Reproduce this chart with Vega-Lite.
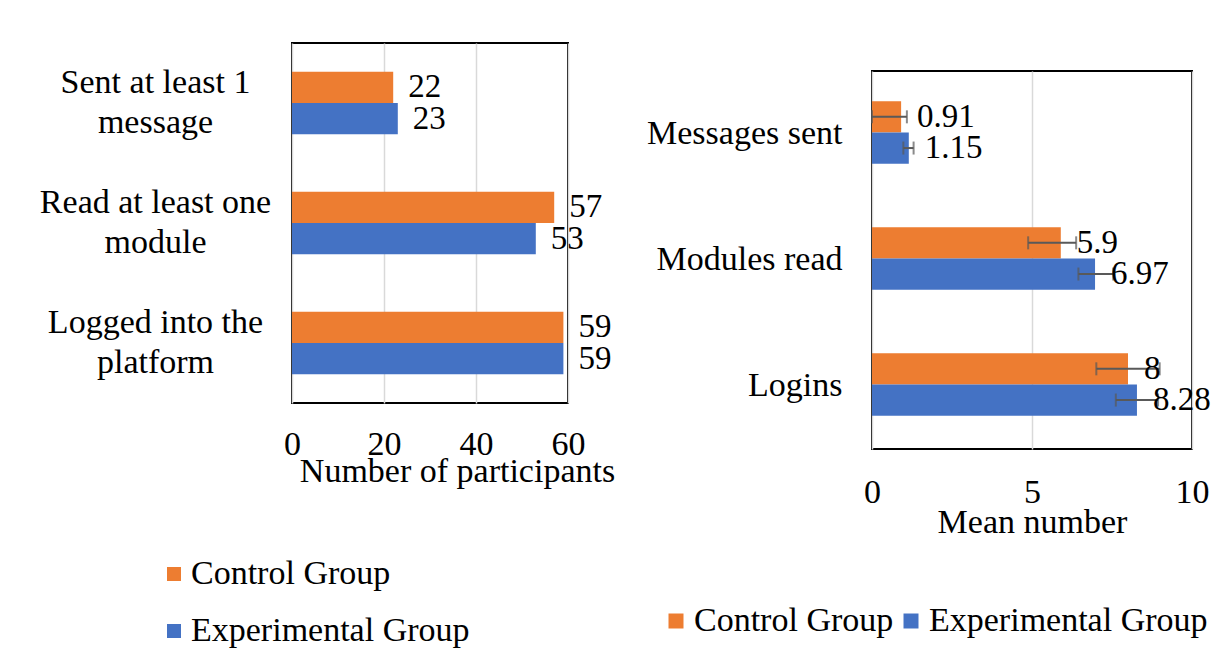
{
  "$schema": "https://vega.github.io/schema/vega-lite/v6.json",
  "padding": {"left": 38, "top": 42, "right": 0, "bottom": 0},
  "autosize": {"type": "pad"},
  "spacing": 29,
  "background": "#ffffff",
  "config": {
    "font": "Liberation Serif",
    "view": {"stroke": "#000000", "strokeWidth": 2},
    "axis": {
      "labelFont": "Liberation Serif", "labelFontSize": 34, "labelColor": "#000000",
      "titleFont": "Liberation Serif", "titleFontSize": 34, "titleFontWeight": "normal", "titleColor": "#000000",
      "domain": false, "ticks": false, "tickSize": 0,
      "gridColor": "#d9d9d9", "gridWidth": 1.5, "labelFlush": false
    },
    "text": {"font": "Liberation Serif", "fontSize": 33, "color": "#000000"}
  },
  "datasets": {
    "participants": [
      {"item": "Sent at least 1 message", "group": "Control Group", "count": 22},
      {"item": "Sent at least 1 message", "group": "Experimental Group", "count": 23},
      {"item": "Read at least one module", "group": "Control Group", "count": 57},
      {"item": "Read at least one module", "group": "Experimental Group", "count": 53},
      {"item": "Logged into the platform", "group": "Control Group", "count": 59},
      {"item": "Logged into the platform", "group": "Experimental Group", "count": 59}
    ],
    "means": [
      {"item": "Messages sent", "group": "Control Group", "mean": 0.91, "lo": 0.0, "hi": 1.09},
      {"item": "Messages sent", "group": "Experimental Group", "mean": 1.15, "lo": 0.98, "hi": 1.3},
      {"item": "Modules read", "group": "Control Group", "mean": 5.9, "lo": 4.88, "hi": 6.38},
      {"item": "Modules read", "group": "Experimental Group", "mean": 6.97, "lo": 6.45, "hi": 7.54},
      {"item": "Logins", "group": "Control Group", "mean": 8, "lo": 7.01, "hi": 8.99},
      {"item": "Logins", "group": "Experimental Group", "mean": 8.28, "lo": 7.62, "hi": 8.94}
    ],
    "blank": []
  },
  "hconcat": [
    {
      "width": 276,
      "height": 360,
      "data": {"name": "participants"},
      "encoding": {
        "y": {
          "field": "item", "type": "nominal",
          "sort": ["Sent at least 1 message", "Read at least one module", "Logged into the platform"],
          "scale": {"paddingInner": 0.48, "paddingOuter": 0.24},
          "axis": {
            "title": null, "labelAlign": "center", "labelPadding": 137, "labelLineHeight": 40, "labelLimit": 400,
            "labelOffset": -20,
            "labelExpr": "datum.label == 'Sent at least 1 message' ? ['Sent at least 1', 'message'] : datum.label == 'Read at least one module' ? ['Read at least one', 'module'] : ['Logged into the', 'platform']"
          }
        },
        "yOffset": {"field": "group", "type": "nominal", "sort": ["Control Group", "Experimental Group"]},
        "x": {
          "field": "count", "type": "quantitative",
          "scale": {"domain": [0, 60], "nice": false},
          "axis": {
            "values": [0, 20, 40, 60], "title": "Number of participants",
            "labelPadding": 51, "labelBaseline": "alphabetic",
            "titleX": 165, "titleY": 78, "titleBaseline": "alphabetic", "titleAlign": "center"
          }
        }
      },
      "layer": [
        {
          "mark": {"type": "bar"},
          "encoding": {
            "color": {
              "field": "group", "type": "nominal",
              "scale": {"domain": ["Control Group", "Experimental Group"], "range": ["#ED7D31", "#4472C4"]},
              "legend": {
                "title": null, "orient": "none", "legendX": -135, "legendY": 514, "direction": "vertical",
                "symbolType": "square", "symbolSize": 196, "symbolStrokeWidth": 0,
                "labelFont": "Liberation Serif", "labelFontSize": 34, "labelColor": "#000000", "labelOffset": 0,
                "labelLimit": 400, "rowPadding": 23, "padding": 0
              }
            }
          }
        },
        {
          "mark": {"type": "text", "align": "left", "baseline": "middle", "dx": 15},
          "encoding": {"text": {"field": "count", "type": "quantitative"}}
        }
      ]
    },
    {
      "spacing": 20,
      "vconcat": [
        {
          "width": 320,
          "height": 7,
          "data": {"name": "blank"},
          "view": {"stroke": null},
          "mark": {"type": "point", "opacity": 0}
        },
        {
          "width": 320,
          "height": 378,
          "data": {"name": "means"},
          "encoding": {
            "y": {
              "field": "item", "type": "nominal",
              "sort": ["Messages sent", "Modules read", "Logins"],
              "scale": {"paddingInner": 0.48, "paddingOuter": 0.24},
              "axis": {"title": null, "labelPadding": 30, "labelLimit": 400}
            },
            "yOffset": {"field": "group", "type": "nominal", "sort": ["Control Group", "Experimental Group"]},
            "x": {
              "field": "mean", "type": "quantitative",
              "scale": {"domain": [0, 10], "nice": false},
              "axis": {
                "values": [0, 5, 10], "title": "Mean number",
                "labelPadding": 53, "labelBaseline": "alphabetic",
                "titleY": 83, "titleBaseline": "alphabetic"
              }
            }
          },
          "layer": [
            {
              "mark": {"type": "bar"},
              "encoding": {
                "color": {
                  "field": "group", "type": "nominal",
                  "scale": {"domain": ["Control Group", "Experimental Group"], "range": ["#ED7D31", "#4472C4"]},
                  "legend": {
                    "title": null, "orient": "none", "legendX": -213, "legendY": 561, "direction": "horizontal",
                    "symbolType": "square", "symbolSize": 225, "symbolStrokeWidth": 0,
                    "labelFont": "Liberation Serif", "labelFontSize": 34, "labelColor": "#000000", "labelOffset": 1,
                    "labelLimit": 400, "columnPadding": 0, "padding": 0
                  }
                }
              }
            },
            {
              "mark": {"type": "rule", "color": "#595959", "strokeWidth": 2},
              "encoding": {"x": {"field": "lo", "type": "quantitative"}, "x2": {"field": "hi"}}
            },
            {
              "mark": {"type": "tick", "color": "#595959", "thickness": 2, "size": 13},
              "encoding": {"x": {"field": "lo", "type": "quantitative"}}
            },
            {
              "mark": {"type": "tick", "color": "#595959", "thickness": 2, "size": 13},
              "encoding": {"x": {"field": "hi", "type": "quantitative"}}
            },
            {
              "mark": {"type": "text", "align": "left", "baseline": "middle", "dx": 16},
              "encoding": {"text": {"field": "mean", "type": "quantitative"}}
            }
          ]
        }
      ]
    }
  ],
  "resolve": {"scale": {"color": "independent"}, "legend": {"color": "independent"}}
}
